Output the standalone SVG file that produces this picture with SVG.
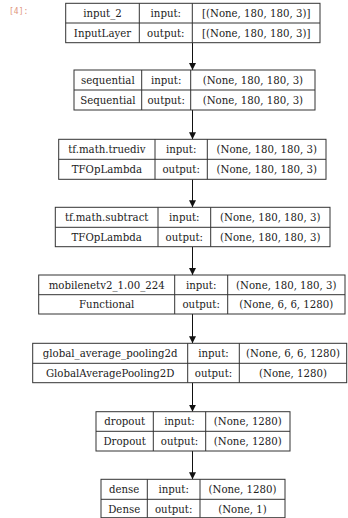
<svg xmlns="http://www.w3.org/2000/svg" width="348" height="518" viewBox="0 0 348 518">
<defs>
<style>
rect.b{fill:#fff;stroke:#333;stroke-width:1}
line.d{stroke:#333;stroke-width:1}
text{font-family:"DejaVu Serif","Liberation Serif",serif;font-size:10.2px;fill:#222;text-anchor:middle}
text.p{font-family:"DejaVu Sans Mono","Liberation Mono",monospace;font-size:8px;fill:#e0957c;text-anchor:start}
.c line{stroke:#111;stroke-width:1}
</style>
<marker id="ah" markerWidth="7" markerHeight="8" refX="7" refY="3.5" orient="auto" markerUnits="userSpaceOnUse">
<path d="M0,0 L7,3.5 L0,7 Z" fill="#111"/>
</marker>
</defs>
<rect width="348" height="518" fill="#fff"/>
<text class="p" x="9" y="14">[4]:</text>

<g class="c">
<line x1="192.5" y1="42.7" x2="192.5" y2="70" marker-end="url(#ah)"/>
<line x1="192.5" y1="110" x2="192.5" y2="139.3" marker-end="url(#ah)"/>
<line x1="192.5" y1="179.3" x2="192.5" y2="207.3" marker-end="url(#ah)"/>
<line x1="192.5" y1="246.7" x2="192.5" y2="275" marker-end="url(#ah)"/>
<line x1="192.5" y1="314" x2="192.5" y2="343.3" marker-end="url(#ah)"/>
<line x1="192.5" y1="382.7" x2="192.5" y2="411.7" marker-end="url(#ah)"/>
<line x1="192.5" y1="451" x2="192.5" y2="479.3" marker-end="url(#ah)"/>
</g>

<g id="input_2">
<rect class="b" x="65.7" y="3.3" width="254.3" height="39.4"/>
<line class="d" x1="65.7" y1="23" x2="320" y2="23"/>
<line class="d" x1="139.3" y1="3.3" x2="139.3" y2="42.7"/>
<line class="d" x1="192.3" y1="3.3" x2="192.3" y2="42.7"/>
<text x="102.5" y="16.8">input_2</text>
<text x="102.5" y="36.5">InputLayer</text>
<text x="165.8" y="16.8">input:</text>
<text x="165.8" y="36.5">output:</text>
<text x="256.2" y="16.8">[(None, 180, 180, 3)]</text>
<text x="256.2" y="36.5">[(None, 180, 180, 3)]</text>
</g>

<g id="sequential">
<rect class="b" x="74" y="70" width="241" height="40"/>
<line class="d" x1="74" y1="90" x2="315" y2="90"/>
<line class="d" x1="141.7" y1="70" x2="141.7" y2="110"/>
<line class="d" x1="190.7" y1="70" x2="190.7" y2="110"/>
<text x="107.9" y="83.8">sequential</text>
<text x="107.9" y="103.8">Sequential</text>
<text x="166.2" y="83.8">input:</text>
<text x="166.2" y="103.8">output:</text>
<text x="252.9" y="83.8">(None, 180, 180, 3)</text>
<text x="252.9" y="103.8">(None, 180, 180, 3)</text>
</g>

<g id="truediv">
<rect class="b" x="58.7" y="139.3" width="267.3" height="40"/>
<line class="d" x1="58.7" y1="159.3" x2="326" y2="159.3"/>
<line class="d" x1="155" y1="139.3" x2="155" y2="179.3"/>
<line class="d" x1="207.3" y1="139.3" x2="207.3" y2="179.3"/>
<text x="106.9" y="153.1">tf.math.truediv</text>
<text x="106.9" y="173.1">TFOpLambda</text>
<text x="181.2" y="153.1">input:</text>
<text x="181.2" y="173.1">output:</text>
<text x="266.7" y="153.1">(None, 180, 180, 3)</text>
<text x="266.7" y="173.1">(None, 180, 180, 3)</text>
</g>

<g id="subtract">
<rect class="b" x="55.3" y="207.3" width="274.7" height="39.4"/>
<line class="d" x1="55.3" y1="227.3" x2="330" y2="227.3"/>
<line class="d" x1="158" y1="207.3" x2="158" y2="246.7"/>
<line class="d" x1="210.7" y1="207.3" x2="210.7" y2="246.7"/>
<text x="106.7" y="221">tf.math.subtract</text>
<text x="106.7" y="240.8">TFOpLambda</text>
<text x="184.3" y="221">input:</text>
<text x="184.3" y="240.8">output:</text>
<text x="270.3" y="221">(None, 180, 180, 3)</text>
<text x="270.3" y="240.8">(None, 180, 180, 3)</text>
</g>

<g id="mobilenet">
<rect class="b" x="38.7" y="275" width="306.3" height="39"/>
<line class="d" x1="38.7" y1="294.7" x2="345" y2="294.7"/>
<line class="d" x1="174.7" y1="275" x2="174.7" y2="314"/>
<line class="d" x1="227.7" y1="275" x2="227.7" y2="314"/>
<text x="106.7" y="288.6">mobilenetv2_1.00_224</text>
<text x="106.7" y="308.2">Functional</text>
<text x="201.2" y="288.6">input:</text>
<text x="201.2" y="308.2">output:</text>
<text x="286.3" y="288.6">(None, 180, 180, 3)</text>
<text x="286.3" y="308.2">(None, 6, 6, 1280)</text>
</g>

<g id="gap">
<rect class="b" x="32.7" y="343.3" width="314" height="39.4"/>
<line class="d" x1="32.7" y1="363.3" x2="346.7" y2="363.3"/>
<line class="d" x1="187.7" y1="343.3" x2="187.7" y2="382.7"/>
<line class="d" x1="239.3" y1="343.3" x2="239.3" y2="382.7"/>
<text x="110.2" y="357">global_average_pooling2d</text>
<text x="110.2" y="376.8">GlobalAveragePooling2D</text>
<text x="213.5" y="357">input:</text>
<text x="213.5" y="376.8">output:</text>
<text x="293" y="357">(None, 6, 6, 1280)</text>
<text x="293" y="376.8">(None, 1280)</text>
</g>

<g id="dropout">
<rect class="b" x="96" y="411.7" width="194" height="39.3"/>
<line class="d" x1="96" y1="431.3" x2="290" y2="431.3"/>
<line class="d" x1="153.3" y1="411.7" x2="153.3" y2="451"/>
<line class="d" x1="205.7" y1="411.7" x2="205.7" y2="451"/>
<text x="124.7" y="425.3">dropout</text>
<text x="124.7" y="445">Dropout</text>
<text x="179.5" y="425.3">input:</text>
<text x="179.5" y="445">output:</text>
<text x="247.8" y="425.3">(None, 1280)</text>
<text x="247.8" y="445">(None, 1280)</text>
</g>

<g id="dense">
<rect class="b" x="101" y="479.3" width="184" height="38.4"/>
<line class="d" x1="101" y1="499.3" x2="285" y2="499.3"/>
<line class="d" x1="147.3" y1="479.3" x2="147.3" y2="517.7"/>
<line class="d" x1="200" y1="479.3" x2="200" y2="517.7"/>
<text x="124.2" y="493">dense</text>
<text x="124.2" y="512.6">Dense</text>
<text x="173.7" y="493">input:</text>
<text x="173.7" y="512.6">output:</text>
<text x="242.5" y="493">(None, 1280)</text>
<text x="242.5" y="512.6">(None, 1)</text>
</g>
</svg>
